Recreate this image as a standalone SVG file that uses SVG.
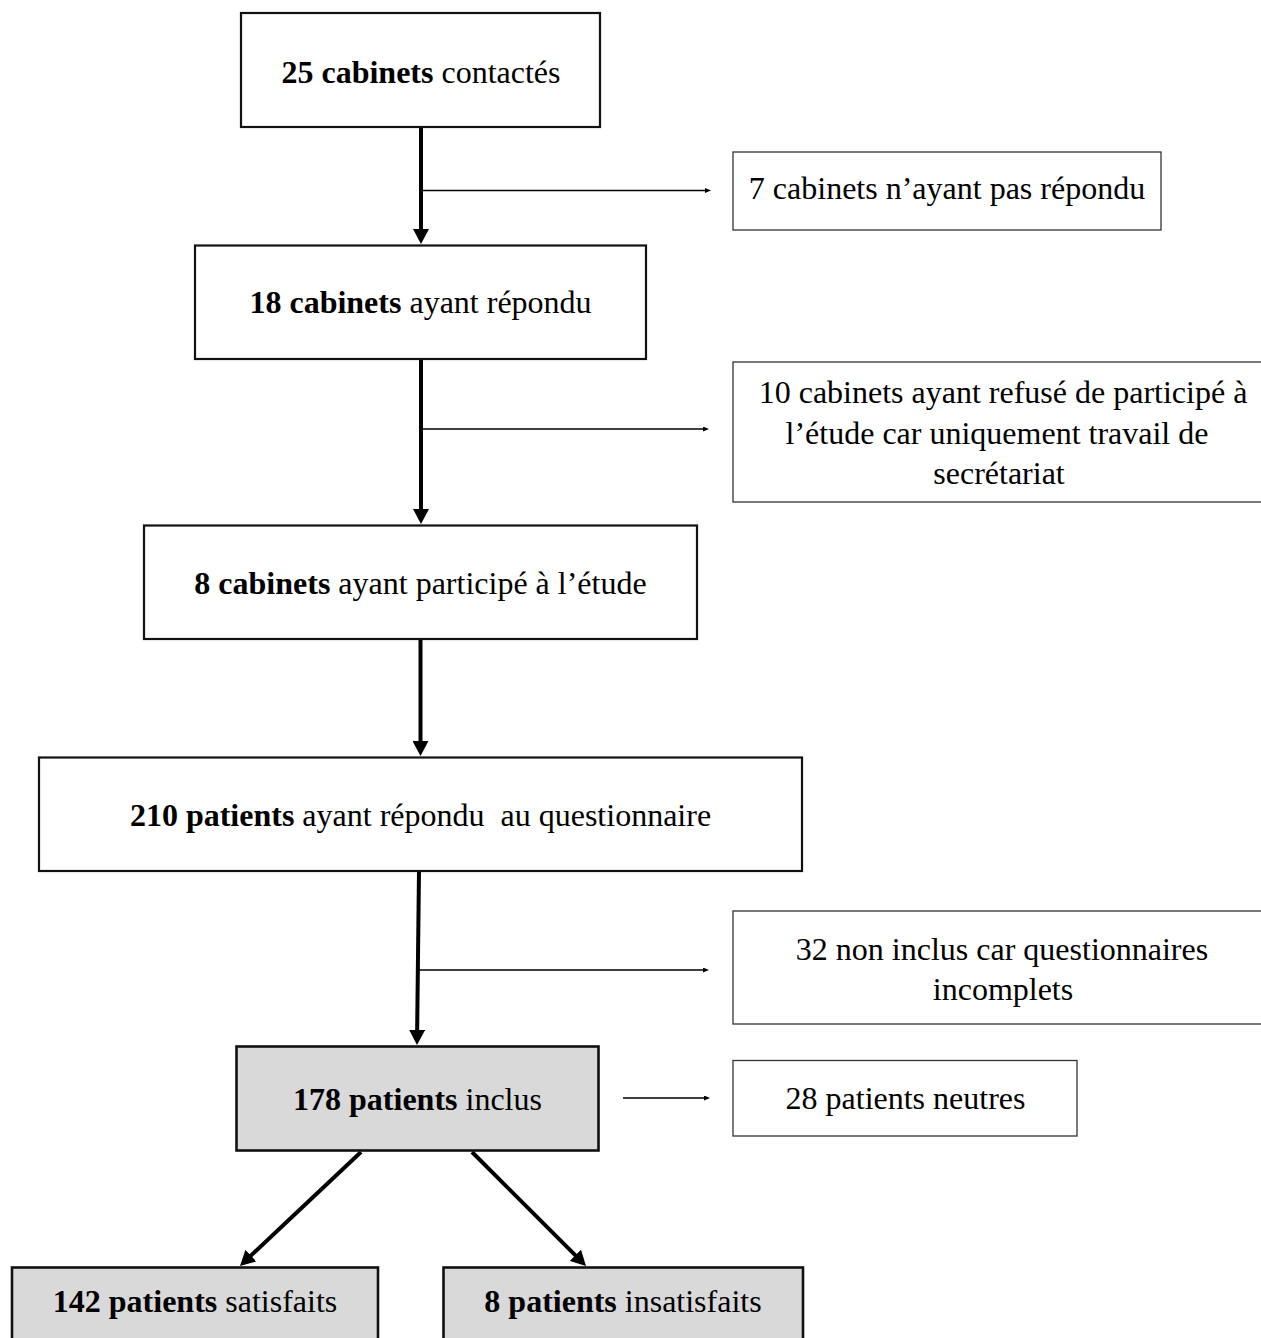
<svg xmlns="http://www.w3.org/2000/svg" width="1261" height="1338" viewBox="0 0 1261 1338">
<style>
  text { font-family: "Liberation Serif", "Times New Roman", serif; font-size: 32px; fill: #000; text-anchor: middle; white-space: pre; }
  .b { font-weight: bold; }
  .main { fill: #fff; stroke: #111; stroke-width: 2.2; }
  .grey { fill: #d9d9d9; stroke: #111; stroke-width: 2.6; }
  .side { fill: #fff; stroke: #333; stroke-width: 1.3; }
  .thick { stroke: #000; stroke-width: 4; fill: none; }
  .thin { stroke: #000; stroke-width: 1.3; fill: none; }
</style>
<defs>
  <marker id="big" markerUnits="userSpaceOnUse" viewBox="0 0 15 16" refX="4" refY="8" markerWidth="15" markerHeight="16" orient="auto">
    <path d="M0,0 L15,8 L0,16 z" fill="#000"/>
  </marker>
  <marker id="small" markerUnits="userSpaceOnUse" viewBox="0 0 6 5" refX="2" refY="2.5" markerWidth="6" markerHeight="5" orient="auto">
    <path d="M0,0 L6,2.5 L0,5 z" fill="#000"/>
  </marker>
</defs>
<rect width="1261" height="1338" fill="#fff"/>

<g id="connectors">
  <line class="thick" x1="421" y1="127" x2="421" y2="233" marker-end="url(#big)"/>
  <line class="thin" x1="421" y1="190.5" x2="707" y2="190.5" marker-end="url(#small)"/>
  <line class="thick" x1="421" y1="359" x2="421" y2="513" marker-end="url(#big)"/>
  <line class="thin" x1="421" y1="429" x2="705" y2="429" marker-end="url(#small)"/>
  <line class="thick" x1="420.5" y1="639" x2="420.5" y2="745" marker-end="url(#big)"/>
  <line class="thick" x1="419" y1="871" x2="417.1" y2="1034" marker-end="url(#big)"/>
  <line class="thin" x1="419" y1="970" x2="705" y2="970" marker-end="url(#small)"/>
  <line class="thin" x1="623" y1="1098" x2="706" y2="1098" marker-end="url(#small)"/>
  <line class="thick" x1="361" y1="1152" x2="248" y2="1258.4" marker-end="url(#big)"/>
  <line class="thick" x1="472" y1="1152" x2="578.2" y2="1258.2" marker-end="url(#big)"/>
</g>

<g id="n1">
  <rect class="main" x="241" y="13" width="359" height="114"/>
  <text x="421" y="83"><tspan class="b">25 cabinets</tspan> contactés</text>
</g>
<g id="n2">
  <rect class="side" x="733" y="152" width="428" height="78"/>
  <text x="947" y="199">7 cabinets n’ayant pas répondu</text>
</g>
<g id="n3">
  <rect class="main" x="195" y="245.5" width="451" height="113.5"/>
  <text x="420.5" y="313"><tspan class="b">18 cabinets</tspan> ayant répondu</text>
</g>
<g id="n4">
  <rect class="side" x="733" y="362" width="545" height="140"/>
  <text x="1003" y="403">10 cabinets ayant refusé de participé à</text>
  <text x="997" y="444">l’étude car uniquement travail de</text>
  <text x="999" y="484">secrétariat</text>
</g>
<g id="n5">
  <rect class="main" x="144" y="525.5" width="553" height="113.5"/>
  <text x="420.5" y="594"><tspan class="b">8 cabinets</tspan> ayant participé à l’étude</text>
</g>
<g id="n6">
  <rect class="main" x="39" y="757.5" width="763" height="113.5"/>
  <text x="420.5" y="826"><tspan class="b">210 patients</tspan> ayant répondu  au questionnaire</text>
</g>
<g id="n7">
  <rect class="side" x="733" y="911" width="545" height="113"/>
  <text x="1002" y="960">32 non inclus car questionnaires</text>
  <text x="1003" y="1000">incomplets</text>
</g>
<g id="n8">
  <rect class="grey" x="236.5" y="1046.5" width="362" height="104"/>
  <text x="417.5" y="1110"><tspan class="b">178 patients</tspan> inclus</text>
</g>
<g id="n9">
  <rect class="side" x="733" y="1060.5" width="344" height="75.5"/>
  <text x="905.5" y="1109">28 patients neutres</text>
</g>
<g id="n10">
  <rect class="grey" x="12" y="1267.5" width="366" height="100"/>
  <text x="195" y="1312"><tspan class="b">142 patients</tspan> satisfaits</text>
</g>
<g id="n11">
  <rect class="grey" x="443.5" y="1267.5" width="359.5" height="100"/>
  <text x="623" y="1312"><tspan class="b">8 patients</tspan> insatisfaits</text>
</g>
</svg>
